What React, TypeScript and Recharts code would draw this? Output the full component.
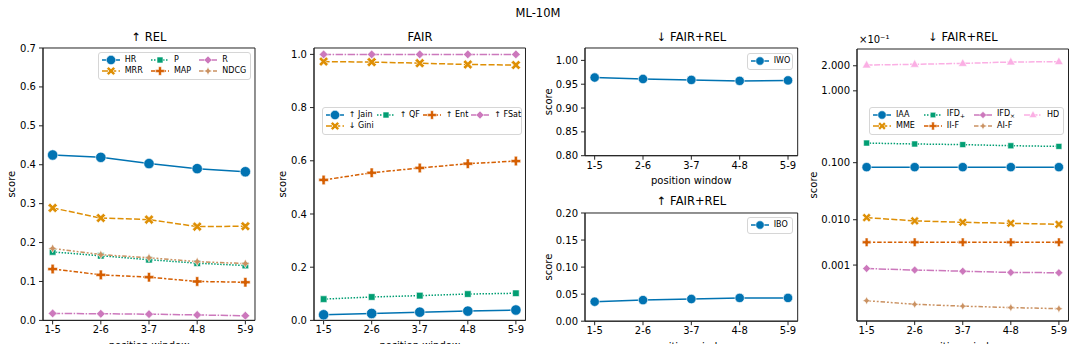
import React from 'react';
import { LineChart, Line, XAxis, YAxis, CartesianGrid, Legend } from 'recharts';

const windows = ['1-5', '2-6', '3-7', '4-8', '5-9'];

// ↑ REL
const hr = [0.425, 0.419, 0.403, 0.39, 0.382];
const mrr = [0.289, 0.263, 0.259, 0.241, 0.242];
const prec = [0.176, 0.166, 0.156, 0.147, 0.141];
const map = [0.132, 0.117, 0.111, 0.1, 0.098];
const rec = [0.018, 0.017, 0.016, 0.014, 0.012];
const ndcg = [0.185, 0.169, 0.161, 0.151, 0.146];

// FAIR
const jain = [0.021, 0.026, 0.031, 0.035, 0.039];
const gini = [0.973, 0.971, 0.967, 0.962, 0.96];
const qf = [0.08, 0.088, 0.093, 0.099, 0.102];
const ent = [0.528, 0.555, 0.573, 0.589, 0.599];
const fsat = [1.0, 1.0, 1.0, 1.0, 1.0];

// FAIR+REL (single metric panels)
const iwo = [0.964, 0.961, 0.959, 0.957, 0.958];
const ibo = [0.036, 0.039, 0.041, 0.043, 0.043];

// FAIR+REL, axis shown in units of 1e-1
const iaa = [0.085, 0.085, 0.085, 0.085, 0.085];
const mme = [0.011, 0.0095, 0.0089, 0.0085, 0.0081];
const ifdPlus = [0.198, 0.192, 0.188, 0.181, 0.177];
const iiF = [0.0034, 0.0034, 0.0034, 0.0034, 0.0034];
const ifdTimes = [0.00082, 0.00075, 0.0007, 0.00065, 0.00064];
const aiF = [0.000103, 0.000079, 0.000069, 0.000062, 0.000057];
const hd = [2.04, 2.08, 2.13, 2.21, 2.23];

const relTicks = [0, 0.1, 0.2, 0.3, 0.4, 0.5, 0.6, 0.7];
const fairTicks = [0, 0.2, 0.4, 0.6, 0.8, 1.0];
const iwoTicks = [0.8, 0.85, 0.9, 0.95, 1.0];
const iboTicks = [0, 0.05, 0.1, 0.15, 0.2];
const mixTicks = [0.001, 0.01, 0.1, 1, 2];

// seaborn colorblind palette, dashes and markers
const palette = ['#0173b2', '#de8f05', '#029e73', '#d55e00', '#cc78bc', '#ca9161', '#fbafe4'];
const dashes = ['', '6 2.25', '1.5 1.5', '4.5 1.9 2.25 1.9', '7.5 1.5 1.5 1.5', '4.5 1.9 1.9 1.9 1.9 1.9', '6 1.5 6 1.5 1.5 1.5'];
const shapes = ['o', 'X', 's', 'P', 'D', 'star', '^'];

type S = { key: string; name: string; sub?: string; values: number[] };

const relSeries: S[] = [
  { key: 'hr', name: 'HR', values: hr },
  { key: 'mrr', name: 'MRR', values: mrr },
  { key: 'p', name: 'P', values: prec },
  { key: 'map', name: 'MAP', values: map },
  { key: 'r', name: 'R', values: rec },
  { key: 'ndcg', name: 'NDCG', values: ndcg },
];
const fairSeries: S[] = [
  { key: 'jain', name: '↑ Jain', values: jain },
  { key: 'gini', name: '↓ Gini', values: gini },
  { key: 'qf', name: '↑ QF', values: qf },
  { key: 'ent', name: '↑ Ent', values: ent },
  { key: 'fsat', name: '↑ FSat', values: fsat },
];
const iwoSeries: S[] = [{ key: 'iwo', name: 'IWO', values: iwo }];
const iboSeries: S[] = [{ key: 'ibo', name: 'IBO', values: ibo }];
const mixSeries: S[] = [
  { key: 'iaa', name: 'IAA', values: iaa },
  { key: 'mme', name: 'MME', values: mme },
  { key: 'ifdp', name: 'IFD', sub: '+', values: ifdPlus },
  { key: 'iif', name: 'II-F', values: iiF },
  { key: 'ifdx', name: 'IFD', sub: '×', values: ifdTimes },
  { key: 'aif', name: 'AI-F', values: aiF },
  { key: 'hd', name: 'HD', values: hd },
];

const toRows = (series: S[]) =>
  windows.map((w, i) => {
    const row: Record<string, any> = { w };
    series.forEach((s) => (row[s.key] = s.values[i]));
    return row;
  });

// power scale (x^k) in the d3 scale shape, for the compressed last panel
function powScale(k: number, d: number[] = [0, 1], r: number[] = [0, 1]): any {
  const f = (v: number) => Math.pow(Math.max(v, 0), k);
  const s: any = (v: number) => r[0] + ((f(v) - f(d[0])) / (f(d[1]) - f(d[0]))) * (r[1] - r[0]);
  s.domain = (v?: number[]) => {
    if (!v) return d.slice();
    d = v.map(Number);
    return s;
  };
  s.range = (v?: number[]) => {
    if (!v) return r.slice();
    r = v.map(Number);
    return s;
  };
  s.invert = (y: number) =>
    Math.pow(f(d[0]) + ((y - r[0]) / (r[1] - r[0])) * (f(d[1]) - f(d[0])), 1 / k);
  s.ticks = () => mixTicks.slice();
  s.copy = () => powScale(k, d.slice(), r.slice());
  s.nice = () => s;
  s.clamp = () => s;
  return s;
}

const plusPts = (l: number, t: number) =>
  [
    [t, -l], [t, -t], [l, -t], [l, t], [t, t], [t, l],
    [-t, l], [-t, t], [-l, t], [-l, -t], [-t, -t], [-t, -l],
  ].map((p) => p.join(',')).join(' ');
const starPts = '0,-4.4 1.5,-1.5 4.4,0 1.5,1.5 0,4.4 -1.5,1.5 -4.4,0 -1.5,-1.5';

function Marker({ shape, cx, cy, color, k }: any) {
  if (cx == null || cy == null || isNaN(cx) || isNaN(cy)) return null;
  const common = { fill: color, stroke: '#fff', strokeWidth: 0.6 };
  const t = `translate(${cx},${cy}) scale(${k})`;
  switch (shape) {
    case 'o':
      return <circle cx={cx} cy={cy} r={5.2 * k} {...common} />;
    case 'X':
      return <polygon transform={`${t} rotate(45)`} points={plusPts(5.2, 1.6)} {...common} />;
    case 's':
      return <polygon transform={t} points="-3.3,-3.3 3.3,-3.3 3.3,3.3 -3.3,3.3" {...common} />;
    case 'P':
      return <polygon transform={t} points={plusPts(4.8, 1.6)} {...common} />;
    case 'D':
      return <polygon transform={t} points="0,-4.4 4.4,0 0,4.4 -4.4,0" {...common} />;
    case 'star':
      return <polygon transform={t} points={starPts} {...common} />;
    default:
      return <polygon transform={t} points="0,-5.2 4.8,3.2 -4.8,3.2" {...common} />;
  }
}

function LegendBox({ series, ncol, k, width }: { series: S[]; ncol: number; k: number; width: number }) {
  const n = series.length;
  const nrows = Math.ceil(n / ncol);
  const extra = n % ncol;
  const cols: number[][] = [];
  let idx = 0;
  for (let c = 0; c < ncol; c++) {
    const size = extra === 0 || c < extra ? nrows : nrows - 1;
    cols.push(Array.from({ length: size }, () => idx++));
  }
  const cells: React.ReactNode[] = [];
  for (let r = 0; r < nrows; r++) {
    for (let c = 0; c < ncol; c++) {
      const i = cols[c][r];
      if (i === undefined) {
        cells.push(<div key={`e${r}-${c}`} />);
        continue;
      }
      const s = series[i];
      cells.push(
        <div key={s.key} style={{ display: 'flex', alignItems: 'center', height: 11.4 }}>
          <svg width={18} height={10} style={{ overflow: 'visible', flex: 'none' }}>
            <line x1={0} x2={18} y1={5} y2={5} stroke={palette[i]} strokeWidth={1.5} strokeDasharray={dashes[i] || undefined} />
            <Marker shape={shapes[i]} cx={9} cy={5} color={palette[i]} k={k * 0.9} />
          </svg>
          <span style={{ marginLeft: 5, whiteSpace: 'nowrap' }}>
            {s.name}
            {s.sub && <sub style={{ fontSize: 6, verticalAlign: -2 }}>{s.sub}</sub>}
          </span>
        </div>
      );
    }
  }
  return (
    <div
      style={{
        boxSizing: 'border-box',
        width,
        display: 'grid',
        gridTemplateColumns: `repeat(${ncol}, auto)`,
        justifyContent: 'space-between',
        columnGap: 3,
        padding: '1px 4px 2px 3px',
        border: '1px solid #d6d6d6',
        borderRadius: 3,
        background: 'rgba(255,255,255,0.85)',
        fontSize: 8,
        color: '#000',
        lineHeight: 1,
      }}
    >
      {cells}
    </div>
  );
}

const YW = 50;
const MT = 6;
const MR = 6;
const XH = 40;

type PanelProps = {
  series: S[];
  x: number;
  y: number;
  w: number;
  h: number;
  domain: [number, number];
  ticks: number[];
  fmt: (v: number) => string;
  scale?: any;
  scoreGap: number;
  legend: { left: number; top: number; ncol: number; width: number };
  k: number;
};

function Panel({ series, x, y, w, h, domain, ticks, fmt, scale, scoreGap, legend, k }: PanelProps) {
  const left = x - YW;
  const top = y - MT;
  const data = toRows(series);
  const pad = w / 22;
  const ScoreLabel = ({ viewBox }: any) => {
    const cx = viewBox.x + viewBox.width - scoreGap;
    const cy = viewBox.y + viewBox.height / 2;
    return (
      <text x={cx} y={cy} transform={`rotate(-90 ${cx} ${cy})`} textAnchor="middle" dominantBaseline="central" fontSize={10} fill="#000">
        score
      </text>
    );
  };
  const WindowLabel = ({ viewBox }: any) => (
    <text x={viewBox.x + viewBox.width / 2} y={viewBox.y + 25} textAnchor="middle" dominantBaseline="central" fontSize={10} fill="#000">
      position window
    </text>
  );
  return (
    <div style={{ position: 'absolute', left, top }}>
      <LineChart width={w + YW + MR} height={h + MT + XH} data={data} margin={{ top: MT, right: MR, bottom: 0, left: 0 }}>
        <CartesianGrid
          stroke="#222"
          strokeWidth={1}
          fill="none"
          horizontalCoordinatesGenerator={({ offset }: any) => [offset.top, offset.top + offset.height]}
          verticalCoordinatesGenerator={({ offset }: any) => [offset.left, offset.left + offset.width]}
        />
        <XAxis
          dataKey="w"
          height={XH}
          padding={{ left: pad, right: pad }}
          tick={{ fontSize: 10, fill: '#000' }}
          tickSize={4}
          tickMargin={2}
          stroke="#222"
          interval={0}
          label={<WindowLabel />}
        />
        <YAxis
          type="number"
          width={YW}
          domain={domain}
          ticks={ticks}
          scale={scale || 'linear'}
          allowDataOverflow
          tickFormatter={fmt}
          tick={{ fontSize: 10, fill: '#000' }}
          tickSize={4}
          tickMargin={3}
          stroke="#222"
          interval={0}
          label={<ScoreLabel />}
        />
        <Legend
          verticalAlign="middle"
          align="center"
          layout="horizontal"
          wrapperStyle={{ left: legend.left - left, top: legend.top - top, width: 'auto' }}
          content={() => <LegendBox series={series} ncol={legend.ncol} k={k} width={legend.width} />}
        />
        {series.map((s, i) => (
          <Line
            key={s.key}
            dataKey={s.key}
            name={s.name}
            stroke={palette[i]}
            strokeWidth={1.5}
            strokeDasharray={dashes[i] || undefined}
            dot={(p: any) => <Marker key={`${s.key}-${p.index}`} shape={shapes[i]} cx={p.cx} cy={p.cy} color={palette[i]} k={k} />}
            activeDot={false}
            isAnimationActive={false}
          />
        ))}
      </LineChart>
    </div>
  );
}

const Title = ({ x, y, children, size = 11.5 }: any) => (
  <div style={{ position: 'absolute', left: x, top: y, transform: 'translate(-50%, -50%)', fontSize: size, whiteSpace: 'nowrap', lineHeight: 1 }}>
    {children}
  </div>
);

export default function App() {
  return (
    <div
      style={{
        position: 'absolute',
        left: 0,
        top: 0,
        width: 1076,
        height: 344,
        overflow: 'hidden',
        background: '#fff',
        fontFamily: '"DejaVu Sans", sans-serif',
        color: '#000',
      }}
    >
      <Title x={538} y={14}>ML-10M</Title>
      <Title x={149} y={38}>↑ REL</Title>
      <Title x={420} y={38}>FAIR</Title>
      <Title x={691.5} y={38}>↓ FAIR+REL</Title>
      <Title x={691.5} y={201.7}>↑ FAIR+REL</Title>
      <Title x={963} y={38}>↓ FAIR+REL</Title>
      <div style={{ position: 'absolute', left: 859, top: 35, fontSize: 10, whiteSpace: 'nowrap', lineHeight: 1 }}>×10⁻¹</div>

      <Panel
        series={relSeries}
        x={43.3}
        y={48.3}
        w={212}
        h={272.4}
        domain={[0, 0.7]}
        ticks={relTicks}
        fmt={(v) => v.toFixed(1)}
        scoreGap={31.6}
        legend={{ left: 97.7, top: 52.3, ncol: 3, width: 153.5 }}
        k={1}
      />
      <Panel
        series={fairSeries}
        x={314.3}
        y={48.3}
        w={211.5}
        h={272.4}
        domain={[0, 1.024]}
        ticks={fairTicks}
        fmt={(v) => v.toFixed(1)}
        scoreGap={31.6}
        legend={{ left: 321.7, top: 107.3, ncol: 4, width: 200.6 }}
        k={1}
      />
      <Panel
        series={iwoSeries}
        x={585}
        y={48.3}
        w={212.7}
        h={107.7}
        domain={[0.8, 1.026]}
        ticks={iwoTicks}
        fmt={(v) => v.toFixed(2)}
        scoreGap={36.7}
        legend={{ left: 746.7, top: 53.3, ncol: 1, width: 46.6 }}
        k={0.9}
      />
      <Panel
        series={iboSeries}
        x={585}
        y={212.5}
        w={212.7}
        h={108.2}
        domain={[0, 0.2]}
        ticks={iboTicks}
        fmt={(v) => v.toFixed(2)}
        scoreGap={36.7}
        legend={{ left: 746.7, top: 217.3, ncol: 1, width: 46.6 }}
        k={0.9}
      />
      <Panel
        series={mixSeries}
        x={857.3}
        y={48.5}
        w={211.5}
        h={272}
        domain={[0.0000213, 3.1]}
        ticks={mixTicks}
        scale={powScale(0.1)}
        fmt={(v) => v.toFixed(3)}
        scoreGap={44}
        legend={{ left: 869, top: 107.3, ncol: 4, width: 195.3 }}
        k={0.9}
      />
    </div>
  );
}
